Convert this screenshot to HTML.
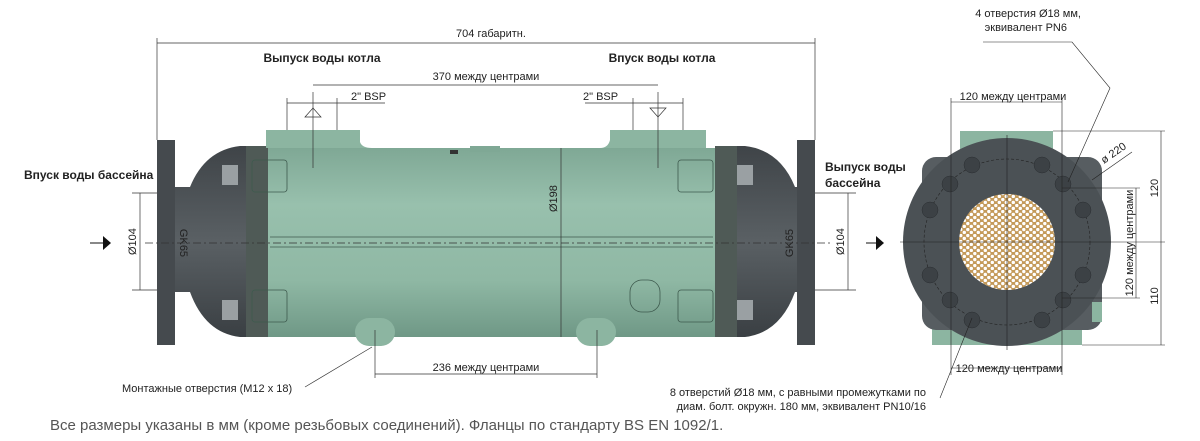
<!DOCTYPE html>
<html><head><meta charset="utf-8"><style>
html,body{margin:0;padding:0;background:#fff;}
svg{display:block;}
text{font-family:"Liberation Sans",sans-serif;fill:#222;}
.b{font-weight:bold;font-size:12px;}
.s{font-size:11px;}
</style></head><body>
<svg width="1200" height="441" viewBox="0 0 1200 441" xmlns="http://www.w3.org/2000/svg">
<defs>
<linearGradient id="g" x1="0" y1="0" x2="0" y2="1">
<stop offset="0" stop-color="#7fa895"/><stop offset="0.3" stop-color="#98c0ad"/><stop offset="0.7" stop-color="#8fb8a4"/><stop offset="1" stop-color="#6f9886"/></linearGradient>
<linearGradient id="d" x1="0" y1="0" x2="0" y2="1">
<stop offset="0" stop-color="#3f4448"/><stop offset="0.5" stop-color="#5a6064"/><stop offset="1" stop-color="#3a3f43"/></linearGradient>
<pattern id="tubes" width="7" height="6" patternUnits="userSpaceOnUse">
<rect width="7" height="6" fill="#c49a5a"/><circle cx="1.8" cy="1.5" r="1.7" fill="#fff"/><circle cx="5.3" cy="4.5" r="1.7" fill="#fff"/></pattern>
</defs>

<rect x="157" y="140" width="18" height="205" fill="#454a4e"/>
<path d="M175 187 L190 187 Q205 150 240 146 L246 146 L246 337 L240 337 Q205 333 190 292 L175 292 Z" fill="url(#d)"/>
<rect x="246" y="146" width="22" height="191" fill="#4f5a56"/>
<rect x="715" y="146" width="22" height="191" fill="#4f5a56"/>
<path d="M737 146 L745 146 Q780 150 795 187 L797 187 L797 292 L795 292 Q780 333 745 337 L737 337 Z" fill="url(#d)"/>
<rect x="797" y="140" width="18" height="205" fill="#454a4e"/>
<rect x="268" y="148" width="447" height="189" fill="url(#g)"/>
<path d="M266 130 L360 130 L360 142 Q362 148 372 148 L266 148 Z" fill="#8cb5a1"/>
<path d="M610 130 L706 130 L706 148 L600 148 Q608 148 610 140 Z" fill="#8cb5a1"/>
<rect x="355" y="318" width="40" height="28" rx="14" fill="#8cb5a1"/>
<rect x="576" y="318" width="40" height="28" rx="14" fill="#8cb5a1"/>
<g stroke="#3e5a4e" stroke-width="0.8" fill="none">
<line x1="270" y1="237" x2="713" y2="237"/><line x1="270" y1="247" x2="713" y2="247"/>
<rect x="252" y="160" width="35" height="32" rx="3"/><rect x="252" y="290" width="35" height="32" rx="3"/>
<rect x="678" y="160" width="35" height="32" rx="3"/><rect x="678" y="290" width="35" height="32" rx="3"/>
<rect x="630" y="280" width="30" height="32" rx="12"/>
</g>
<rect x="222" y="165" width="16" height="20" fill="#9aa0a3"/><rect x="222" y="300" width="16" height="20" fill="#9aa0a3"/>
<rect x="737" y="165" width="16" height="20" fill="#9aa0a3"/><rect x="737" y="300" width="16" height="20" fill="#9aa0a3"/>
<rect x="450" y="150" width="8" height="4" fill="#333"/><rect x="470" y="146" width="30" height="6" fill="#7fa895"/>
<text x="180" y="243" class="s" fill="#333" transform="rotate(90 180 243)" text-anchor="middle">GK65</text>
<text x="793" y="243" class="s" fill="#333" transform="rotate(-90 793 243)" text-anchor="middle">GK65</text>

<g stroke="#333" stroke-width="0.7" fill="none">
<line x1="145" y1="243" x2="830" y2="243" stroke-dasharray="8 3 2 3"/>
<line x1="313" y1="92" x2="313" y2="168"/><line x1="658" y1="92" x2="658" y2="168"/>
<line x1="157" y1="38" x2="157" y2="140"/><line x1="815" y1="38" x2="815" y2="140"/>
<line x1="157" y1="43" x2="815" y2="43"/>
<line x1="313" y1="85" x2="658" y2="85"/>
<line x1="287" y1="103" x2="337" y2="103"/><line x1="287" y1="98" x2="287" y2="130"/><line x1="337" y1="98" x2="337" y2="130"/><line x1="337" y1="103" x2="385" y2="103"/>
<line x1="633" y1="103" x2="683" y2="103"/><line x1="633" y1="98" x2="633" y2="130"/><line x1="683" y1="98" x2="683" y2="130"/><line x1="585" y1="103" x2="633" y2="103"/>
<path d="M305 117 L313 108 L321 117 Z"/><path d="M650 108 L658 117 L666 108 Z"/>
<line x1="561" y1="148" x2="561" y2="337"/>
<line x1="140" y1="193" x2="140" y2="290"/><line x1="132" y1="193" x2="157" y2="193"/><line x1="132" y1="290" x2="157" y2="290"/>
<line x1="848" y1="193" x2="848" y2="290"/><line x1="815" y1="193" x2="856" y2="193"/><line x1="815" y1="290" x2="856" y2="290"/>
<line x1="375" y1="330" x2="375" y2="378"/><line x1="597" y1="330" x2="597" y2="378"/><line x1="375" y1="374" x2="597" y2="374"/>
<line x1="305" y1="387" x2="372" y2="347"/>
</g>
<text x="491" y="37" text-anchor="middle" class="s">704 габаритн.</text>
<text x="486" y="80" text-anchor="middle" class="s">370 между центрами</text>
<text x="351" y="100" class="s">2" BSP</text>
<text x="583" y="100" class="s">2" BSP</text>
<text x="322" y="62" text-anchor="middle" class="b">Выпуск воды котла</text>
<text x="662" y="62" text-anchor="middle" class="b">Впуск воды котла</text>
<text x="24" y="179" class="b">Впуск воды бассейна</text>
<text x="825" y="171" class="b">Выпуск воды</text>
<text x="825" y="187" class="b">бассейна</text>
<text x="557" y="212" class="s" transform="rotate(-90 557 212)">Ø198</text>
<text x="136" y="255" class="s" transform="rotate(-90 136 255)">Ø104</text>
<text x="844" y="255" class="s" transform="rotate(-90 844 255)">Ø104</text>
<text x="486" y="371" text-anchor="middle" class="s">236 между центрами</text>
<text x="122" y="392" class="s">Монтажные отверстия (M12 x 18)</text>
<path d="M90 243 L103 243" stroke="#111" stroke-width="1"/><path d="M103 236 L111 243 L103 250 Z" fill="#111"/>
<path d="M866 243 L876 243" stroke="#111" stroke-width="1"/><path d="M876 236 L884 243 L876 250 Z" fill="#111"/>

<rect x="960" y="131" width="93" height="30" fill="#8cb5a1"/>
<rect x="932" y="310" width="150" height="35" fill="#8cb5a1"/>
<rect x="922" y="157" width="180" height="173" rx="14" fill="#575d61"/>
<rect x="1092" y="302" width="10" height="20" fill="#8cb5a1"/>
<circle cx="1007" cy="242" r="104" fill="#4b5155"/>
<circle cx="1007" cy="242" r="83" fill="none" stroke="#222" stroke-width="0.6" stroke-dasharray="3 2"/>
<g fill="#3c4145" stroke="#2a2e31" stroke-width="0.5">
<circle cx="972" cy="165" r="8"/><circle cx="1042" cy="165" r="8"/>
<circle cx="950" cy="184" r="8"/><circle cx="1063" cy="184" r="8"/>
<circle cx="930" cy="210" r="8"/><circle cx="1083" cy="210" r="8"/>
<circle cx="930" cy="275" r="8"/><circle cx="1083" cy="275" r="8"/>
<circle cx="950" cy="300" r="8"/><circle cx="1063" cy="300" r="8"/>
<circle cx="972" cy="320" r="8"/><circle cx="1042" cy="320" r="8"/>
</g>
<circle cx="1007" cy="242" r="48" fill="url(#tubes)"/>
<g stroke="#222" stroke-width="0.6" fill="none">
<line x1="900" y1="242" x2="1165" y2="242"/><line x1="1007" y1="135" x2="1007" y2="350"/>
<line x1="951" y1="98" x2="951" y2="375"/><line x1="1062" y1="98" x2="1062" y2="375"/>
<line x1="951" y1="102" x2="1062" y2="102"/><line x1="951" y1="368" x2="1062" y2="368"/>
<line x1="1053" y1="131" x2="1165" y2="131"/><line x1="1082" y1="345" x2="1165" y2="345"/>
<line x1="1161" y1="131" x2="1161" y2="345"/>
<line x1="1062" y1="188" x2="1140" y2="188"/><line x1="1062" y1="298" x2="1140" y2="298"/><line x1="1136" y1="188" x2="1136" y2="298"/>
<line x1="1092" y1="180" x2="1132" y2="152"/>
<path d="M983 42 L1072 42 L1110 88 L1068 182"/>
<path d="M940 398 L972 318"/>
</g>
<text x="1013" y="100" text-anchor="middle" class="s">120 между центрами</text>
<text x="1009" y="372" text-anchor="middle" class="s">120 между центрами</text>
<text x="1158" y="188" class="s" transform="rotate(-90 1158 188)" text-anchor="middle">120</text>
<text x="1158" y="296" class="s" transform="rotate(-90 1158 296)" text-anchor="middle">110</text>
<text x="1133" y="243" class="s" transform="rotate(-90 1133 243)" text-anchor="middle">120 между центрами</text>
<text x="1104" y="164" class="s" transform="rotate(-35 1104 164)">ø 220</text>
<text x="1081" y="17" text-anchor="end" class="s">4 отверстия Ø18 мм,</text>
<text x="1067" y="31" text-anchor="end" class="s">эквивалент PN6</text>
<text x="926" y="396" text-anchor="end" class="s">8 отверстий Ø18 мм, с равными промежутками по</text>
<text x="926" y="410" text-anchor="end" class="s">диам. болт. окружн. 180 мм, эквивалент PN10/16</text>
<text x="50" y="430" font-size="15" style="fill:#555">Все размеры указаны в мм (кроме резьбовых соединений). Фланцы по стандарту BS EN 1092/1.</text>
</svg>
</body></html>
